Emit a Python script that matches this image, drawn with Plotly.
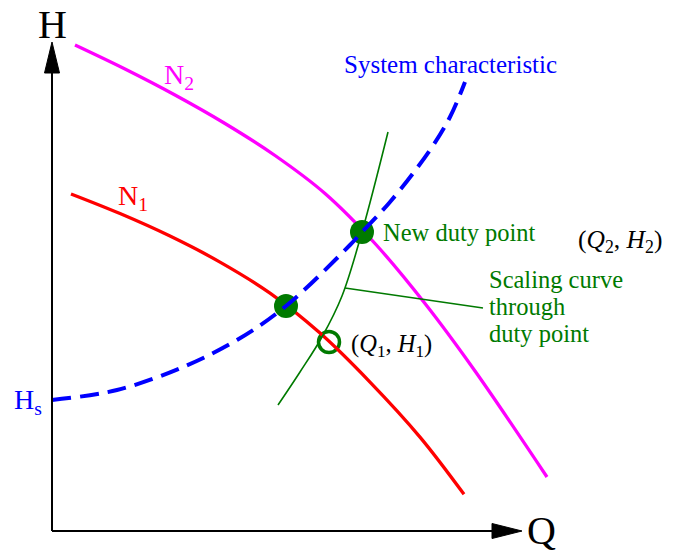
import plotly.graph_objects as go

# Flow Q and head H in drawing units (origin at the axis corner)
n2_q = [23, 73, 123, 173, 223, 273, 323, 373, 423, 495]
n2_h = [486, 462, 436, 407.5, 375.5, 337.5, 287.5, 227.5, 160, 54]

n1_q = [19, 68, 118, 168, 218, 268, 318, 368, 412]
n1_h = [337, 317.4, 294.9, 268.9, 237.9, 197.9, 148.9, 93.9, 36.7]

sys_q = [0, 65, 131, 185, 234, 298, 310, 338, 378, 398, 413]
sys_h = [131, 141, 164, 191, 225, 286, 299, 329, 381, 414, 449]

scale_q = [226, 248, 270, 290, 310, 336]
scale_h = [126, 159, 194, 235, 299, 399]

# Operating points
duty_q = [234, 310]          # N1 on system curve, new duty point
duty_h = [225, 299]
q1h1_q = [277]               # N1 on scaling curve
q1h1_h = [189]

# Leader from scaling curve to its label
leader_q = [293, 431]
leader_h = [243, 223]

FONT = "Liberation Serif"
GREEN = "#007a00"
BLUE = "#0000ff"
RED = "#ff0000"
MAGENTA = "#ff00ff"

fig = go.Figure()

fig.add_trace(go.Scatter(x=q1h1_q, y=q1h1_h, mode="markers",
                         marker=dict(size=21, color="rgba(0,0,0,0)",
                                     line=dict(color=GREEN, width=3.5))))
fig.add_trace(go.Scatter(x=n1_q, y=n1_h, mode="lines", line_shape="spline",
                         line=dict(color=RED, width=3.3)))
fig.add_trace(go.Scatter(x=n2_q, y=n2_h, mode="lines", line_shape="spline",
                         line=dict(color=MAGENTA, width=3.3)))
fig.add_trace(go.Scatter(x=scale_q, y=scale_h, mode="lines", line_shape="spline",
                         line=dict(color=GREEN, width=1.6)))
fig.add_trace(go.Scatter(x=leader_q, y=leader_h, mode="lines",
                         line=dict(color=GREEN, width=1.6)))
fig.add_trace(go.Scatter(x=duty_q, y=duty_h, mode="markers",
                         marker=dict(size=24, color=GREEN, line=dict(width=0))))
fig.add_trace(go.Scatter(x=sys_q, y=sys_h, mode="lines", line_shape="spline",
                         line=dict(color=BLUE, width=4, dash="19px,9px")))

# Axes with arrowheads
axis_shapes = [
    dict(type="line", x0=0, y0=0, x1=0, y1=460, line=dict(color="black", width=2)),
    dict(type="line", x0=0, y0=0, x1=442, y1=0, line=dict(color="black", width=2)),
    dict(type="path", path="M 0 489 L -7.5 458 L 7.5 458 Z",
         fillcolor="black", line=dict(color="black", width=1)),
    dict(type="path", path="M 470 0 L 440 7.5 L 440 -7.5 Z",
         fillcolor="black", line=dict(color="black", width=1)),
]

def label(x, y, text, color, size, xanchor="center", yanchor="middle", align="center"):
    return dict(x=x, y=y, xref="x", yref="y", text=text, showarrow=False,
                xanchor=xanchor, yanchor=yanchor, align=align,
                font=dict(family=FONT, size=size, color=color))

annotations = [
    label(0, 507, "H", "black", 40),
    label(489, 1, "Q", "black", 40),
    label(398, 467, "System characteristic", BLUE, 25),
    label(110, 455, "N<sub>2</sub>", MAGENTA, 28, xanchor="left"),
    label(64, 334, "N<sub>1</sub>", RED, 28, xanchor="left"),
    label(-40, 130, "H<sub>s</sub>", BLUE, 28, xanchor="left"),
    label(329, 299, "New duty point", GREEN, 24.5, xanchor="left"),
    label(524, 290, "(<i>Q</i><sub>2</sub>, <i>H</i><sub>2</sub>)", "black", 25.5, xanchor="left"),
    label(435, 252, "Scaling curve", GREEN, 24.5, xanchor="left"),
    label(435, 225, "through", GREEN, 24.5, xanchor="left"),
    label(435, 198, "duty point", GREEN, 24.5, xanchor="left"),
    label(297, 186, "(<i>Q</i><sub>1</sub>, <i>H</i><sub>1</sub>)", "black", 24.5, xanchor="left"),
]

fig.update_layout(
    width=674, height=553,
    margin=dict(l=0, r=0, t=0, b=0),
    paper_bgcolor="white", plot_bgcolor="white",
    showlegend=False,
    xaxis=dict(range=[-52, 622], visible=False, fixedrange=True),
    yaxis=dict(range=[-22, 531], visible=False, fixedrange=True),
    shapes=axis_shapes,
    annotations=annotations,
    font=dict(family=FONT),
)

fig.write_html("out.html")
